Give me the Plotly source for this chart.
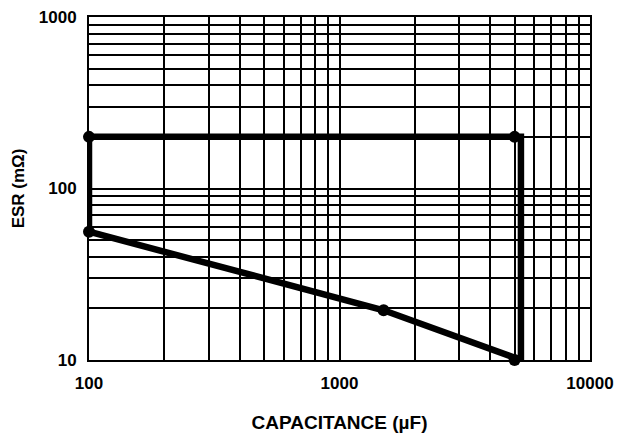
import plotly.graph_objects as go

# Outline of the ESR/capacitance region (path)
path_cap = [100, 100, 5300, 5300, 1500, 100]
path_esr = [56, 200, 200, 10, 19.5, 56]

# Marked points
pt_cap = [100, 5000, 100, 1500, 5000]
pt_esr = [200, 200, 56, 19.5, 10]

x_major = [100, 1000, 10000]
x_major_text = ["100", "1000", "10000"]
y_major = [10, 100, 1000]
y_major_text = ["10", "100", "1000"]
x_minor = [m * d for d in (100, 1000) for m in range(2, 10)]
y_minor = [m * d for d in (10, 100) for m in range(2, 10)]

fig = go.Figure()
fig.add_trace(go.Scatter(x=path_cap, y=path_esr, mode="lines",
                         line=dict(color="black", width=6.5),
                         cliponaxis=False, hoverinfo="skip"))
fig.add_trace(go.Scatter(x=pt_cap, y=pt_esr, mode="markers",
                         marker=dict(color="black", size=12),
                         cliponaxis=False))

fam = "Liberation Sans, Arial, sans-serif"
tick_font = dict(family=fam, size=17, color="black", weight="bold")
xt_font = dict(family=fam, size=19, color="black", weight="bold")
yt_font = dict(family=fam, size=17, color="black", weight="bold")
axis_common = dict(type="log", showline=True, linecolor="black", linewidth=2,
                   mirror=True, showgrid=True, gridcolor="black", gridwidth=2,
                   zeroline=False, ticks="", tickfont=tick_font, automargin=False,
                   ticklabeloverflow="allow")

fig.update_xaxes(**axis_common, range=[2, 4], tickmode="array",
                 tickvals=x_major, ticktext=x_major_text,
                 ticklabelstandoff=7,
                 minor=dict(tickmode="array", tickvals=x_minor, showgrid=True,
                            gridcolor="black", gridwidth=2, ticks=""),
                 title=dict(text="CAPACITANCE (µF)", font=xt_font, standoff=23))
fig.update_yaxes(**axis_common, range=[1, 3], tickmode="array",
                 tickvals=y_major, ticktext=y_major_text,
                 ticklabelstandoff=7,
                 minor=dict(tickmode="array", tickvals=y_minor, showgrid=True,
                            gridcolor="black", gridwidth=2, ticks=""),
                 title=dict(text="ESR (mΩ)", font=yt_font, standoff=10))

fig.update_layout(width=619, height=426, showlegend=False,
                  plot_bgcolor="white", paper_bgcolor="white",
                  margin=dict(l=81, r=37, t=9, b=74),
                  font=tick_font)

fig.write_html("out.html")
